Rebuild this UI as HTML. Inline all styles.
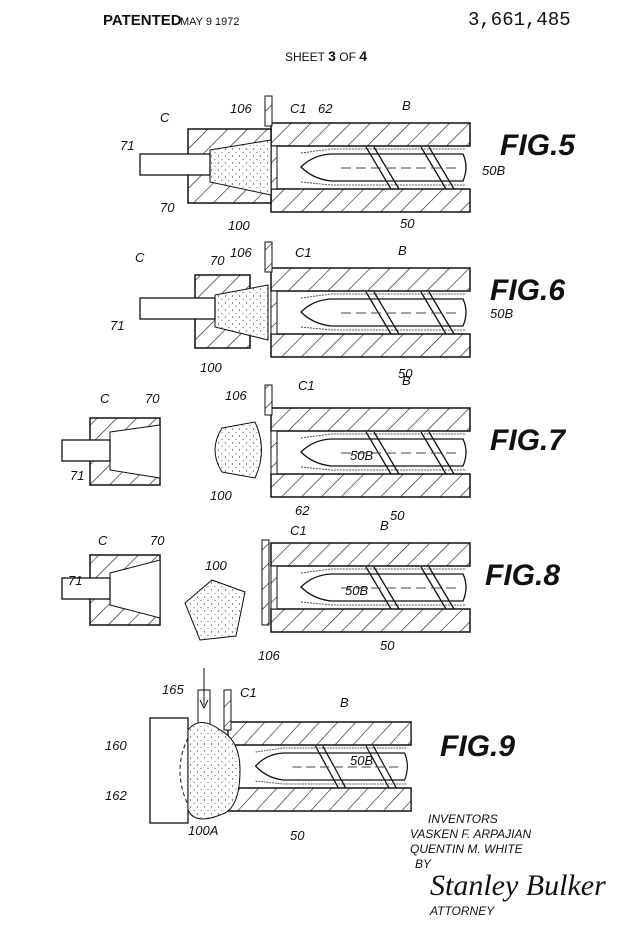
<!DOCTYPE html>
<html><head><style>
body{margin:0;background:#fff}
svg{display:block}
text{font-family:"Liberation Sans",sans-serif;fill:#111}
.l{font-size:13px;font-style:italic}
.f{font-size:30px;font-style:italic;font-weight:bold}
</style></head><body>
<svg width="643" height="931" viewBox="0 0 643 931" xmlns="http://www.w3.org/2000/svg">
<defs>
<pattern id="h" width="14" height="14" patternUnits="userSpaceOnUse" patternTransform="rotate(45)">
<rect width="14" height="14" fill="#fff"/><line x1="0" y1="0" x2="0" y2="14" stroke="#222" stroke-width="1.3"/></pattern>
<pattern id="d" width="7" height="7" patternUnits="userSpaceOnUse">
<rect width="7" height="7" fill="#fff"/><circle cx="1.5" cy="2" r=".6" fill="#333"/><circle cx="5" cy="5.5" r=".5" fill="#333"/></pattern>
<g id="bar">
<rect x="0" y="0" width="199" height="23" fill="url(#h)" stroke="#111" stroke-width="1.5"/>
<rect x="0" y="66" width="199" height="23" fill="url(#h)" stroke="#111" stroke-width="1.5"/>
<rect x="0" y="23" width="6" height="43" fill="url(#h)" stroke="#111" stroke-width="1"/>
<path d="M30 30 L60 26 H195 M30 59 L60 62 H195" fill="none" stroke="#555" stroke-width="1" stroke-dasharray="2 1"/>
<path d="M60 31 H192 Q198 44 192 58 H60 Q42 56 30 44 Q42 32 60 31Z" fill="#fff" stroke="#111" stroke-width="1.3"/>
<path d="M95 24 L120 66 M103 24 L128 66 M150 24 L175 66 M158 24 L183 66" stroke="#111" stroke-width="1.3"/>
<line x1="70" y1="45" x2="190" y2="45" stroke="#444" stroke-dasharray="10 5"/>
</g>
</defs>

<text x="103" y="25" style="font-size:15px;font-weight:bold;font-family:'Liberation Sans Narrow','Liberation Sans',sans-serif">PATENTED</text>
<text x="180" y="25" style="font-size:11px">MAY  9 1972</text>
<text x="468" y="25" style="font-size:19px;font-family:'Liberation Mono',monospace">3,661,485</text>
<text x="285" y="61" style="font-size:12px">SHEET <tspan font-weight="bold" font-size="14">3</tspan> OF <tspan font-weight="bold" font-size="14">4</tspan></text>

<!-- FIG 5 -->
<use href="#bar" x="271" y="123"/>
<rect x="265" y="96" width="7" height="30" fill="url(#h)" stroke="#111"/>
<path d="M188 129 H271 V203 H188Z" fill="url(#h)" stroke="#111" stroke-width="1.5"/>
<path d="M210 150 L271 140 V195 L210 182Z" fill="url(#d)" stroke="#111"/>
<rect x="140" y="154" width="70" height="21" fill="#fff" stroke="#111" stroke-width="1.3"/>
<text x="500" y="155" class="f">FIG.5</text>
<text class="l" x="120" y="150">71</text><text class="l" x="160" y="122">C</text><text class="l" x="160" y="212">70</text>
<text class="l" x="228" y="230">100</text><text class="l" x="230" y="113">106</text><text class="l" x="290" y="113">C1</text>
<text class="l" x="318" y="113">62</text><text class="l" x="402" y="110">B</text><text class="l" x="482" y="175">50B</text><text class="l" x="400" y="228">50</text>

<!-- FIG 6 -->
<use href="#bar" x="271" y="268"/>
<rect x="265" y="242" width="7" height="30" fill="url(#h)" stroke="#111"/>
<path d="M195 275 H250 V348 H195Z" fill="url(#h)" stroke="#111" stroke-width="1.5"/>
<path d="M215 295 L268 285 V340 L215 327Z" fill="url(#d)" stroke="#111"/>
<rect x="140" y="298" width="75" height="21" fill="#fff" stroke="#111" stroke-width="1.3"/>
<text x="490" y="300" class="f">FIG.6</text>
<text class="l" x="110" y="330">71</text><text class="l" x="135" y="262">C</text><text class="l" x="210" y="265">70</text>
<text class="l" x="200" y="372">100</text><text class="l" x="230" y="257">106</text><text class="l" x="295" y="257">C1</text>
<text class="l" x="398" y="255">B</text><text class="l" x="490" y="318">50B</text><text class="l" x="398" y="378">50</text>

<!-- FIG 7 -->
<use href="#bar" x="271" y="408"/>
<rect x="265" y="385" width="7" height="30" fill="url(#h)" stroke="#111"/>
<path d="M90 418 H160 V485 H90Z" fill="url(#h)" stroke="#111" stroke-width="1.5"/>
<path d="M110 432 L160 425 V478 L110 470Z" fill="#fff" stroke="#111"/>
<rect x="62" y="440" width="48" height="21" fill="#fff" stroke="#111" stroke-width="1.3"/>
<path d="M222 428 L255 422 Q268 450 255 478 L222 472 Q208 450 222 428Z" fill="url(#d)" stroke="#111"/>
<text x="490" y="450" class="f">FIG.7</text>
<text class="l" x="100" y="403">C</text><text class="l" x="145" y="403">70</text><text class="l" x="70" y="480">71</text>
<text class="l" x="210" y="500">100</text><text class="l" x="225" y="400">106</text><text class="l" x="298" y="390">C1</text>
<text class="l" x="402" y="385">B</text><text class="l" x="350" y="460">50B</text><text class="l" x="295" y="515">62</text><text class="l" x="390" y="520">50</text>

<!-- FIG 8 -->
<use href="#bar" x="271" y="543"/>
<rect x="262" y="540" width="7" height="85" fill="url(#h)" stroke="#111"/>
<path d="M90 555 H160 V625 H90Z" fill="url(#h)" stroke="#111" stroke-width="1.5"/>
<path d="M110 573 L160 560 V618 L110 605Z" fill="#fff" stroke="#111"/>
<rect x="62" y="578" width="48" height="21" fill="#fff" stroke="#111" stroke-width="1.3"/>
<path d="M185 603 L212 580 L245 592 L236 636 L200 640Z" fill="url(#d)" stroke="#111"/>
<text x="485" y="585" class="f">FIG.8</text>
<text class="l" x="98" y="545">C</text><text class="l" x="150" y="545">70</text><text class="l" x="68" y="585">71</text>
<text class="l" x="205" y="570">100</text><text class="l" x="258" y="660">106</text><text class="l" x="290" y="535">C1</text>
<text class="l" x="380" y="530">B</text><text class="l" x="345" y="595">50B</text><text class="l" x="380" y="650">50</text>

<!-- FIG 9 -->
<g transform="translate(228,722) scale(0.92,1)"><use href="#bar"/></g>
<rect x="224" y="690" width="7" height="40" fill="url(#h)" stroke="#111"/>
<rect x="198" y="690" width="12" height="38" fill="#fff" stroke="#111"/>
<path d="M204 668 V705 M200 700 L204 708 L208 700" stroke="#111" fill="none"/>
<rect x="150" y="718" width="38" height="105" fill="#fff" stroke="#111" stroke-width="1.3"/>
<path d="M188 730 Q200 715 220 730 Q240 740 240 770 Q240 810 220 815 Q195 825 188 810Z" fill="url(#d)" stroke="#111"/>
<path d="M188 738 Q172 770 188 805" fill="none" stroke="#111" stroke-dasharray="4 3"/>
<text x="440" y="756" class="f">FIG.9</text>
<text class="l" x="162" y="694">165</text><text class="l" x="240" y="697">C1</text><text class="l" x="340" y="707">B</text>
<text class="l" x="105" y="750">160</text><text class="l" x="105" y="800">162</text><text class="l" x="188" y="835">100A</text>
<text class="l" x="350" y="765">50B</text><text class="l" x="290" y="840">50</text>

<text class="l" x="428" y="823" style="font-size:12px">INVENTORS</text>
<text class="l" x="410" y="838" style="font-size:12px">VASKEN F. ARPAJIAN</text>
<text class="l" x="410" y="853" style="font-size:12px">QUENTIN M. WHITE</text>
<text class="l" x="415" y="868" style="font-size:12px">BY</text>
<text x="430" y="895" style="font-size:30px;font-style:italic;font-family:'Liberation Serif',serif">Stanley Bulker</text>
<text class="l" x="430" y="915" style="font-size:12px">ATTORNEY</text>
</svg>
</body></html>
